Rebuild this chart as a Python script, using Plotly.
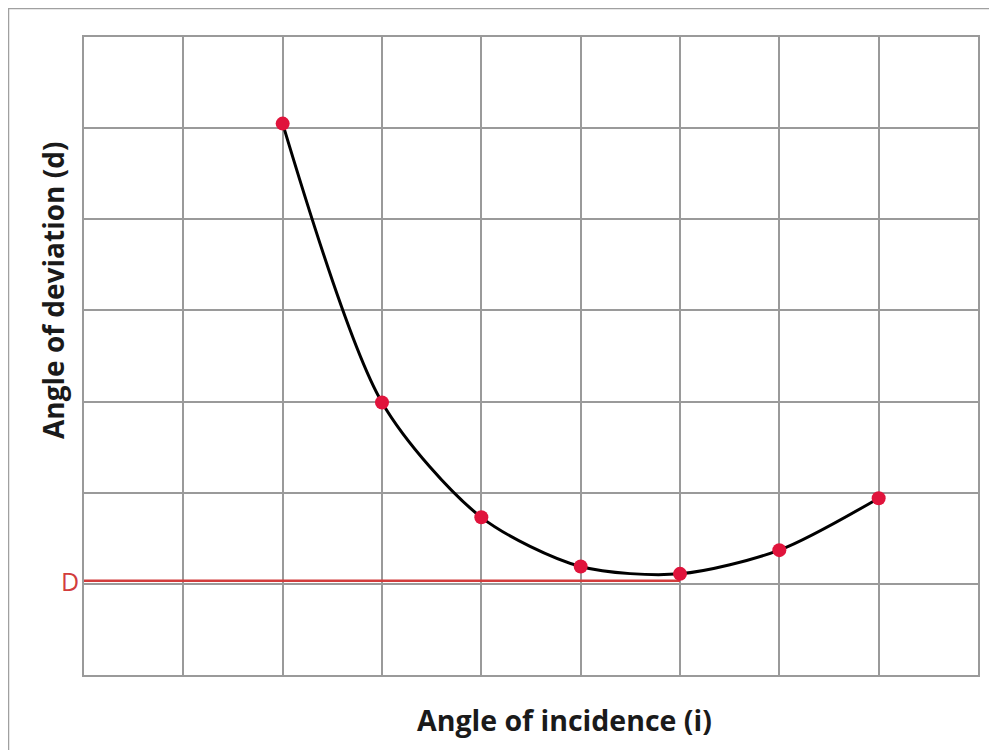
import plotly.graph_objects as go

# Data (grid units)
incidence = [2, 3, 4, 5, 6, 7, 8]
deviation = [6.05, 2.99, 1.73, 1.19, 1.11, 1.37, 1.94]
min_deviation = 1.035
min_x_end = 6
x_title = "Angle of incidence (i)"
y_title = "Angle of deviation (d)"
d_label = "D"

fig = go.Figure()

# Minimum deviation line
fig.add_trace(go.Scatter(
    x=[0, min_x_end], y=[min_deviation, min_deviation],
    mode="lines", line=dict(color="#d23c3c", width=2.5),
    hoverinfo="skip", showlegend=False))

# Smooth curve
fig.add_trace(go.Scatter(
    x=incidence, y=deviation, mode="lines",
    line=dict(color="black", width=3, shape="spline", smoothing=0.8),
    showlegend=False))

# Points
fig.add_trace(go.Scatter(
    x=incidence, y=deviation, mode="markers",
    marker=dict(color="#e0143c", size=14),
    showlegend=False))

axis_common = dict(showgrid=True, gridcolor="#9a9a9a", gridwidth=1.5,
                   showline=True, linecolor="#9a9a9a", linewidth=2, mirror=True,
                   zeroline=False, showticklabels=False, ticks="", dtick=1)

fig.update_xaxes(range=[0, 9], **axis_common)
fig.update_yaxes(range=[0, 7], **axis_common)

# page has an 8px body offset; work in page pixels and convert
OFF = 8
W, H = 997 - OFF, 750 - OFF
PL, PR, PT, PB = 84, 978, 37, 675  # plot area in page pixels
L, R, T, B = PL - OFF, (997 - PR), PT - OFF, (750 - PB)
pw, ph = PR - PL, PB - PT

def px(xp):
    return (xp - PL) / pw

def py(yp):
    return (PB - yp) / ph

fig.update_layout(
    width=W, height=H,
    margin=dict(l=L, r=R, t=T, b=B),
    paper_bgcolor="white", plot_bgcolor="white",
    font=dict(family="Open Sans", color="#1a1a1a"),
    shapes=[
        dict(type="line", xref="paper", yref="paper",
             x0=px(8), x1=px(1010), y0=py(8), y1=py(8),
             line=dict(color="#a0a0a0", width=2.5)),
        dict(type="line", xref="paper", yref="paper",
             x0=px(8), x1=px(8), y0=py(8), y1=py(770),
             line=dict(color="#a0a0a0", width=2.5)),
    ],
    annotations=[
        dict(text=f"<b>{x_title}</b>", xref="paper", yref="paper",
             x=px(564), y=py(720), xanchor="center", yanchor="middle",
             showarrow=False,
             font=dict(size=28.5, family="Open Sans", color="#1a1a1a")),
        dict(text=f"<b>{y_title}</b>", xref="paper", yref="paper",
             x=px(53), y=py(291), xanchor="center", yanchor="middle",
             showarrow=False, textangle=-90,
             font=dict(size=28, family="Open Sans", color="#1a1a1a")),
        dict(text=d_label, xref="paper", yref="y",
             x=px(81), y=min_deviation, xanchor="right", yanchor="middle",
             showarrow=False,
             font=dict(size=25, family="Open Sans", color="#d23c3c")),
    ],
)

fig.write_html("out.html")
